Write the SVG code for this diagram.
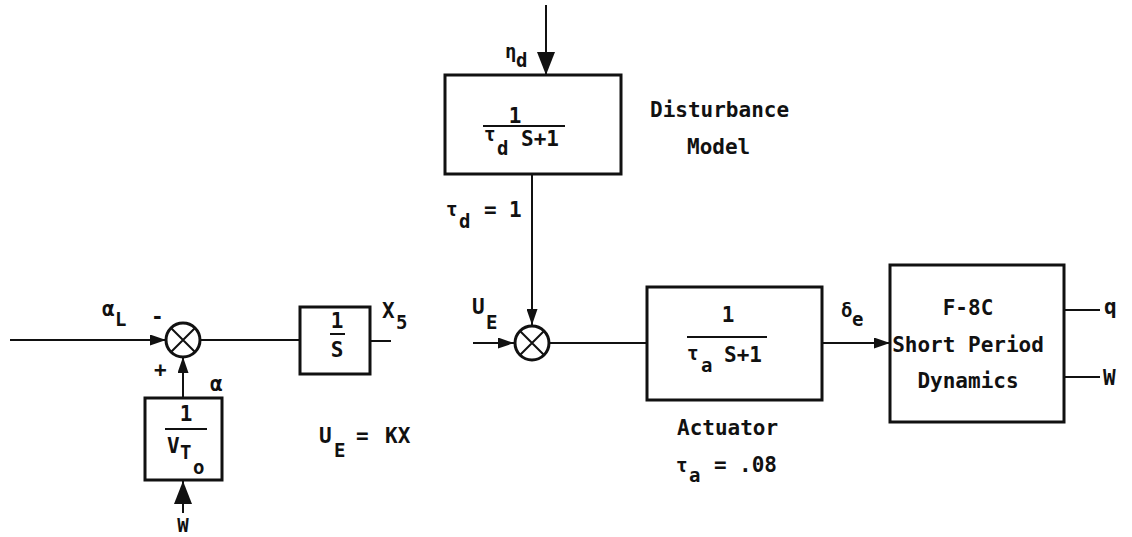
<svg xmlns="http://www.w3.org/2000/svg" width="1132" height="537" viewBox="0 0 1132 537">
<style>
.t{font-family:"DejaVu Sans Mono","Liberation Mono",monospace;font-weight:bold;font-size:21px;fill:#111}
.s{font-family:"DejaVu Sans Mono","Liberation Mono",monospace;font-weight:bold;font-size:19px;fill:#111}
.m{text-anchor:middle}
.b{fill:#fff;stroke:#111;stroke-width:3}
.l{fill:none;stroke:#111;stroke-width:2}
.c{fill:#fff;stroke:#111;stroke-width:3}
</style>
<defs>
<marker id="arr" markerUnits="userSpaceOnUse" viewBox="0 0 16 11" markerWidth="16" markerHeight="11" refX="16" refY="5.5" orient="auto"><path d="M0,0 L16,5.5 L0,11 Z" fill="#111"/></marker>
<marker id="arrB" markerUnits="userSpaceOnUse" viewBox="0 0 23 18" markerWidth="23" markerHeight="18" refX="23" refY="9" orient="auto"><path d="M0,0 L23,9 L0,18 Z" fill="#111"/></marker>
</defs>
<rect width="1132" height="537" fill="#fff"/>
<g id="connectors">
<path class="l" d="M10,340 H166" marker-end="url(#arr)"/>
<path class="l" d="M183,398 V357" marker-end="url(#arr)"/>
<path class="l" d="M183,513 V481" stroke-width="2.5" marker-end="url(#arrB)"/>
<path class="l" d="M200,340 H300"/>
<path class="l" d="M370,341 H391"/>
<path class="l" d="M546,5 V75" marker-end="url(#arrB)"/>
<path class="l" d="M532,174 V325" marker-end="url(#arr)"/>
<path class="l" d="M473,343 H514" marker-end="url(#arr)"/>
<path class="l" d="M550,343 H647"/>
<path class="l" d="M822,343 H890" marker-end="url(#arr)"/>
<path class="l" d="M1064,310 H1100"/>
<path class="l" d="M1064,377 H1100"/>
</g>
<g id="sum1">
<circle class="c" cx="183" cy="340" r="17"/>
<path class="l" stroke-width="2.5" d="M171,328 L195,352 M195,328 L171,352"/>
<text class="t" x="102" y="316">α</text><text class="s" x="115" y="326">L</text>
<text class="t" x="151" y="324">-</text>
<text class="t" x="154" y="377">+</text>
</g>
<g id="vto">
<rect class="b" x="145" y="398" width="77" height="82"/>
<text class="t m" x="186" y="421">1</text>
<path class="l" d="M165,429 H207"/>
<text class="t" x="167" y="453">V</text><text class="s" x="180" y="459">T</text><text class="s" x="193" y="474">o</text>
<text class="t" x="210" y="391">α</text>
<text class="s m" x="183" y="532">W</text>
</g>
<g id="integrator">
<rect class="b" x="300" y="307" width="70" height="67"/>
<text class="t m" x="337" y="328">1</text>
<path class="l" d="M330,334 H345"/>
<text class="t m" x="337" y="357">S</text>
<text class="t" x="382" y="318">X</text><text class="s" x="396" y="329">5</text>
<text class="t" x="319" y="443">U</text><text class="s" x="334" y="457">E</text>
<text class="t" x="356" y="443">=</text>
<text class="t" x="385" y="443">KX</text>
</g>
<g id="disturbance">
<rect class="b" x="445" y="75" width="176" height="99"/>
<text class="t m" x="515" y="123">1</text>
<path class="l" d="M483,126 H565"/>
<text class="s" x="484" y="141">τ</text><text class="s" x="497" y="155">d</text>
<text class="t" x="521" y="146">S+1</text>
<text class="s" x="505" y="58">η</text><text class="s" x="516" y="67">d</text>
<text class="t" x="650" y="117">Disturbance</text>
<text class="t" x="687" y="154">Model</text>
<text class="s" x="446" y="216">τ</text><text class="s" x="459" y="228">d</text>
<text class="t" x="484" y="217">=</text>
<text class="t" x="509" y="217">1</text>
</g>
<g id="sum2">
<circle class="c" cx="532" cy="343" r="17"/>
<path class="l" stroke-width="2.5" d="M520,331 L544,355 M544,331 L520,355"/>
<text class="t" x="472" y="314">U</text><text class="s" x="486" y="329">E</text>
</g>
<g id="actuator">
<rect class="b" x="647" y="287" width="175" height="113"/>
<text class="t m" x="728" y="322">1</text>
<path class="l" d="M687,337 H767"/>
<text class="s" x="687" y="360">τ</text><text class="s" x="701" y="372">a</text>
<text class="t" x="724" y="362">S+1</text>
<text class="t" x="677" y="435">Actuator</text>
<text class="s" x="676" y="472">τ</text><text class="s" x="689" y="482">a</text>
<text class="t" x="714" y="472">=</text>
<text class="t" x="739" y="472">.08</text>
<text class="s" x="841" y="317">δ</text><text class="s" x="852" y="326">e</text>
</g>
<g id="f8c">
<rect class="b" x="890" y="265" width="174" height="157"/>
<text class="t m" x="968" y="315">F-8C</text>
<text class="t m" x="968" y="352">Short Period</text>
<text class="t m" x="968" y="388">Dynamics</text>
<text class="t" x="1104" y="314">q</text>
<text class="t" x="1103" y="385">W</text>
</g>
</svg>
